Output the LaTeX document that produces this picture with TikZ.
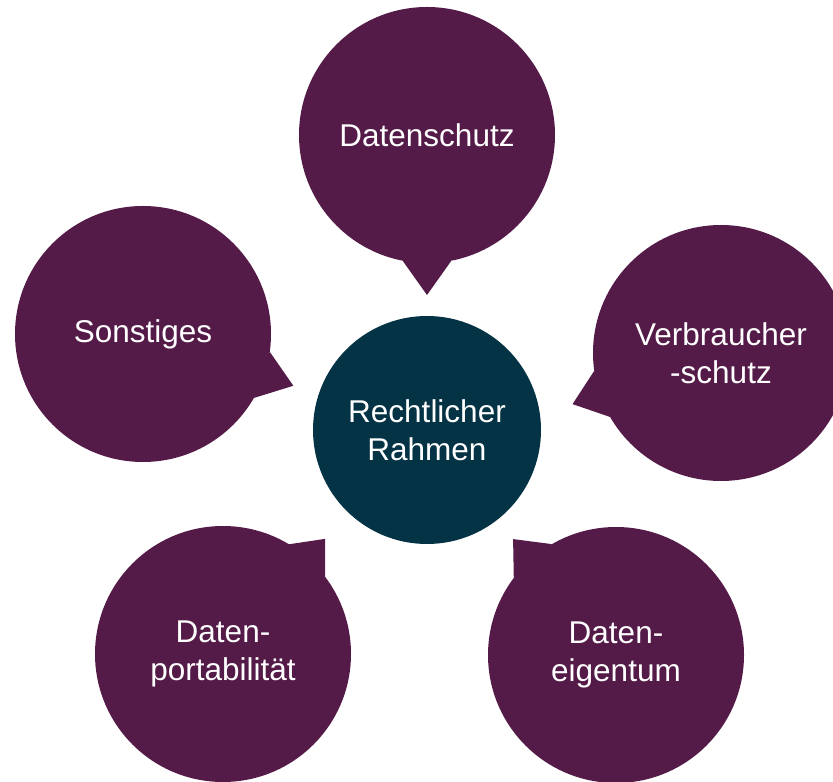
\documentclass[tikz,border=0pt]{standalone}
\usepackage{fontspec}
\setmainfont{Liberation Sans}
\usepackage{tikz}
\usetikzlibrary{calc}

\definecolor{plum}{RGB}{84,26,72}
\definecolor{petrol}{RGB}{3,51,69}

\begin{document}
\begin{tikzpicture}[x=1pt, y=1pt,
    bubble/.style={circle, fill=plum, minimum size=256pt, inner sep=0pt, outer sep=0pt,
        text=white, align=center, font=\fontsize{31.5}{38}\selectfont}]
    \useasboundingbox (0,0) rectangle (833,782);

    % Draw the center circle
    \node[bubble, fill=petrol, minimum size=228pt] (rahmen) at (427,352) {Rechtlicher\\Rahmen};

    % Draw the five bubbles around it
    \node[bubble] (datenschutz) at (427,647) {Datenschutz};
    \node[bubble] (verbraucher) at (721,429) {Verbraucher\\-schutz};
    \node[bubble] (eigentum) at (616,127) {Daten-\\eigentum};
    \node[bubble] (portabilitaet) at (223,128) {Daten-\\portabilität};
    \node[bubble] (sonstiges) at (143,448) {Sonstiges};

    % Draw the pointers towards the center
    \fill[plum] (datenschutz.259) -- ($(datenschutz)+(270:160)$) -- (datenschutz.281) -- cycle;
    \fill[plum] (verbraucher.188) -- ($(verbraucher)+(199:157)$) -- (verbraucher.210) -- cycle;
    \fill[plum] (eigentum.120) -- ($(eigentum)+(131.6:155)$) -- (eigentum.143) -- cycle;
    \fill[plum] (portabilitaet.37) -- ($(portabilitaet)+(48.4:154)$) -- (portabilitaet.59) -- cycle;
    \fill[plum] (sonstiges.330) -- ($(sonstiges)+(341:159)$) -- (sonstiges.352) -- cycle;
\end{tikzpicture}
\end{document}
